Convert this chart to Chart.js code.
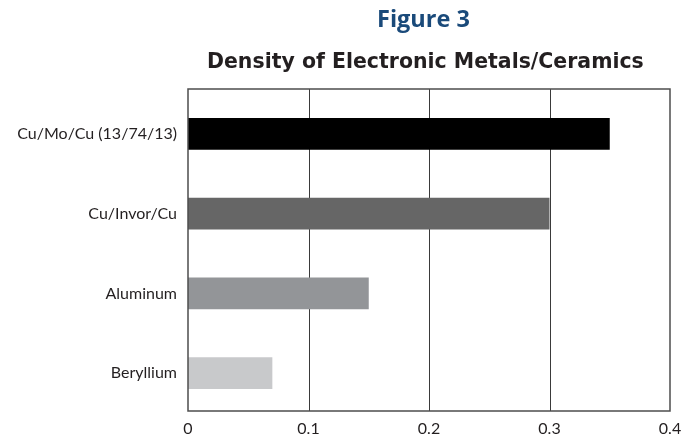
<!DOCTYPE html>
<html>
<head>
<meta charset="utf-8">
<style>
  html, body { margin: 0; padding: 0; background: #ffffff; }
  #wrap { width: 696px; height: 437px; position: relative; }
</style>
<script src="https://cdn.jsdelivr.net/npm/chart.js@4.4.1/dist/chart.umd.min.js"></script>
</head>
<body>
<div id="wrap"><canvas id="c" width="696" height="437"></canvas></div>
<script>
const categories = ["Cu/Mo/Cu (13/74/13)", "Cu/Invor/Cu", "Aluminum", "Beryllium"];
const densityValues = [0.35, 0.30, 0.15, 0.07];
const barColors = ["#000000", "#666666", "#939598", "#c8c9cb"];
const xTicks = [0, 0.1, 0.2, 0.3, 0.4];
const titleText = "Figure 3";
const subtitleText = "Density of Electronic Metals/Ceramics";

const FONT = "Lato, 'Open Sans', sans-serif";
const TFONT = "'DejaVu Sans', 'Open Sans', sans-serif";
const FIGFONT = "'Open Sans', Lato, sans-serif";
const BOX_TOP = 89, BOX_BOTTOM = 411;

function drawFitted(ctx, text, family, left, baseline, targetW) {
  ctx.font = "bold 20px " + family;
  const w = ctx.measureText(text).width;
  const size = 20 * targetW / w;
  ctx.font = "bold " + size.toFixed(2) + "px " + family;
  ctx.textAlign = 'left';
  ctx.textBaseline = 'alphabetic';
  ctx.fillText(text, left, baseline);
}

const titlePlugin = {
  id: 'titles',
  afterDraw(chart) {
    const ctx = chart.ctx;
    ctx.save();
    ctx.fillStyle = '#1a4a7a';
    drawFitted(ctx, titleText, FIGFONT, 377, 27, 93);
    ctx.fillStyle = '#231f20';
    drawFitted(ctx, subtitleText, TFONT, 207, 67.5, 437);
    ctx.restore();
  }
};

const gridPlugin = {
  id: 'gridbox',
  beforeDatasetsDraw(chart) {
    const ctx = chart.ctx;
    const xs = chart.scales.x;
    ctx.save();
    ctx.strokeStyle = '#3a3a3a';
    ctx.lineWidth = 1;
    xTicks.slice(1, -1).forEach(v => {
      const px = Math.round(xs.getPixelForValue(v)) + 0.5;
      ctx.beginPath();
      ctx.moveTo(px, BOX_TOP);
      ctx.lineTo(px, BOX_BOTTOM);
      ctx.stroke();
    });
    ctx.restore();
  },
  afterDatasetsDraw(chart) {
    const ctx = chart.ctx;
    const xs = chart.scales.x;
    const l = xs.getPixelForValue(xTicks[0]);
    const r = xs.getPixelForValue(xTicks[xTicks.length - 1]);
    ctx.save();
    ctx.strokeStyle = '#4d4d4d';
    ctx.lineWidth = 1.5;
    ctx.strokeRect(l, BOX_TOP, r - l, BOX_BOTTOM - BOX_TOP);
    ctx.restore();
  }
};

new Chart(document.getElementById('c'), {
  type: 'bar',
  data: {
    labels: categories,
    datasets: [{
      data: densityValues,
      backgroundColor: barColors,
      borderWidth: 0,
      barPercentage: 0.4,
      categoryPercentage: 1.0
    }]
  },
  options: {
    indexAxis: 'y',
    responsive: false,
    animation: false,
    devicePixelRatio: 1,
    layout: { padding: { top: 94, right: 26, bottom: 0, left: 0 } },
    plugins: {
      legend: { display: false },
      tooltip: { enabled: false }
    },
    scales: {
      x: {
        min: 0, max: 0.4,
        afterBuildTicks(scale) { scale.ticks = xTicks.map(v => ({ value: v })); },
        afterFit(scale) { scale.height = 24; },
        grid: { display: false, drawTicks: false },
        border: { display: false },
        ticks: {
          color: '#231f20',
          font: { family: FONT, size: 16 },
          padding: 6,
          callback: (v) => String(v)
        }
      },
      y: {
        afterFit(scale) { scale.width = 188; },
        grid: { display: false, drawTicks: false },
        border: { display: false },
        ticks: {
          color: '#231f20',
          font: { family: FONT, size: 16 },
          padding: 11
        }
      }
    }
  },
  plugins: [titlePlugin, gridPlugin]
});
</script>
</body>
</html>
